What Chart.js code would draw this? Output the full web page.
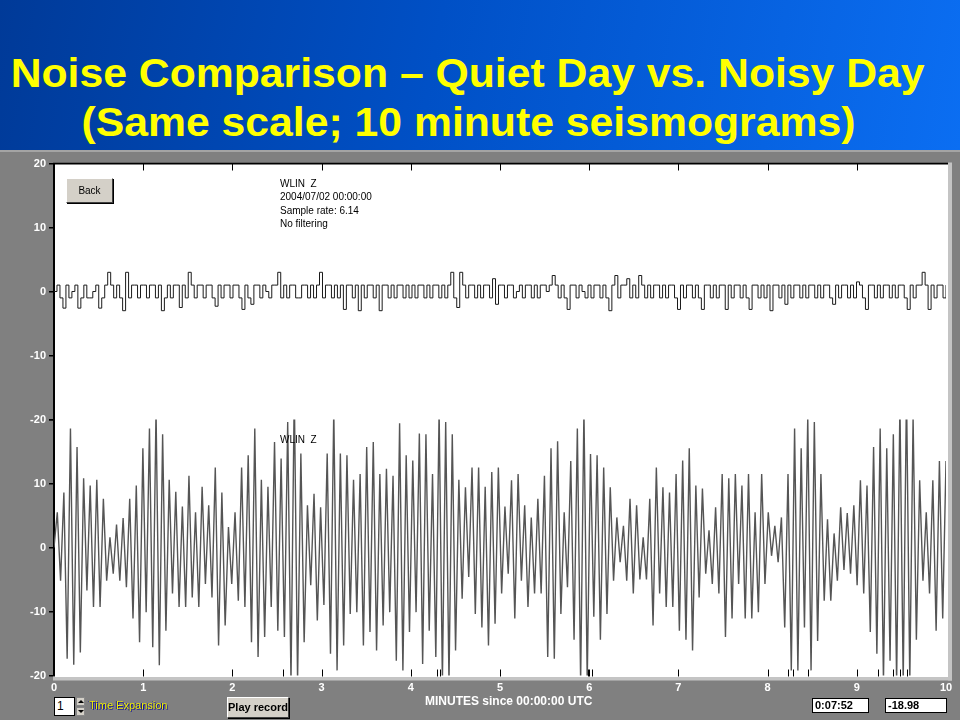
<!DOCTYPE html>
<html><head><meta charset="utf-8">
<script src="https://cdn.jsdelivr.net/npm/chart.js@4.4.1/dist/chart.umd.min.js"></script>
<style>
html,body{margin:0;padding:0;width:960px;height:720px;overflow:hidden;background:#808080;font-family:"Liberation Sans",Arial,sans-serif;}
#header{position:absolute;left:0;top:0;width:960px;height:150px;background:linear-gradient(100deg,#003a98 0%,#0050c6 45%,#0b6ef2 100%);}
#panel{position:absolute;left:0;top:150px;width:960px;height:570px;background:#808080;border-top:2px solid #a4a4a4;box-sizing:border-box;}
.title{position:absolute;left:-12px;width:960px;text-align:center;color:#ffff00;font-weight:bold;font-size:41px;line-height:41px;white-space:nowrap;}
.title span{display:inline-block;transform-origin:center center;}
#wrap{position:absolute;left:0;top:150px;width:960px;height:570px;}
.txt{position:absolute;font-size:10px;color:#000;white-space:pre;line-height:13.3px;}
.btn{position:absolute;background:#d4d0c8;border-top:1px solid #fff;border-left:1px solid #fff;border-right:1px solid #404040;border-bottom:1px solid #404040;box-shadow:1px 1px 0 #000;box-sizing:border-box;text-align:center;color:#000;}
.box{position:absolute;background:#fff;border:1px solid #000;box-sizing:border-box;font-weight:bold;font-size:11px;line-height:13px;padding-left:2px;color:#000;}
</style></head>
<body>
<div id="header"></div>
<div class="title" style="top:53px;"><span id="t1">Noise Comparison – Quiet Day vs. Noisy Day</span></div>
<div class="title" style="top:102px;"><span id="t2">(Same scale; 10 minute seismograms)</span></div>
<div id="panel"></div>
<div id="wrap"><canvas id="c" width="960" height="570"></canvas></div>

<div class="btn" style="left:66px;top:178px;width:47px;height:25px;font-size:10px;line-height:23px;">Back</div>
<div class="txt" style="left:280px;top:177px;">WLIN  Z
2004/07/02 00:00:00
Sample rate: 6.14
No filtering</div>
<div class="txt" style="left:280px;top:433px;">WLIN  Z</div>

<div class="box" style="left:54px;top:697px;width:21px;height:19px;font-weight:normal;font-size:12px;line-height:17px;">1</div>
<div style="position:absolute;left:76px;top:697px;width:9px;height:9px;background:#d4d0c8;border:1px solid #888;box-sizing:border-box;"><div style="position:absolute;left:1px;top:2px;width:0;height:0;border-left:3px solid transparent;border-right:3px solid transparent;border-bottom:3px solid #000;"></div></div>
<div style="position:absolute;left:76px;top:707px;width:9px;height:9px;background:#d4d0c8;border:1px solid #888;box-sizing:border-box;"><div style="position:absolute;left:1px;top:2px;width:0;height:0;border-left:3px solid transparent;border-right:3px solid transparent;border-top:3px solid #000;"></div></div>
<div style="position:absolute;left:89px;top:698px;font-size:11px;line-height:14px;color:#f2f200;text-shadow:1px 1px 0 #1c1c90,-1px 0 0 #1c1c90;white-space:nowrap;">Time Expansion</div>
<div class="btn" style="left:227px;top:697px;width:62px;height:21px;font-size:11px;line-height:19px;font-weight:bold;">Play record</div>
<div style="position:absolute;left:425px;top:694px;font-family:'Liberation Sans Narrow','Liberation Sans',sans-serif;font-weight:bold;font-size:12px;line-height:14px;color:#fff;white-space:nowrap;">MINUTES since 00:00:00 UTC</div>
<div class="box" style="left:812px;top:698px;width:57px;height:15px;">0:07:52</div>
<div class="box" style="left:885px;top:698px;width:62px;height:15px;">-18.98</div>

<script>
// ---- data ----
const minuteTicks = [0,1,2,3,4,5,6,7,8,9,10];
const axisTicks = [-20,-10,0,10,20];
// event marks along the bottom edge (minutes)
const eventMarks = [2.57,4.29,4.33,5.99,6.03,8.23,8.28,8.45,9.24,9.41,9.48,9.56];
// quiet day (top trace), 300 stepped samples over 10 minutes
const quietDay = [
 0,1,-1,-2.6,1,-1,0,1,-2.6,-1,1,-1,-1,0,1,-2.6,-1,1,3,1,-1,1,-1,-3,3,-1,1,1,-1,1,
 1,-1,1,1,-1,1,-3,-1,1,-1,1,1,-2.5,1,-1,3,1,-1,1,1,-1,1,1,-1,-2.3,1,-1,1,1,-1,
 1,1,-1,-2.8,1,-1,-2,1,1,-1,1,0,-1,1,1,3,-1,1,-1,1,1,-1,-1,1,1,-1,1,-1,1,3,
 -1,1,1,-1,1,-1,1,-2.8,1,1,-1,1,-3,1,-1,1,1,-1,1,-3,1,1,-1,1,-1,1,1,-1,1,-1,
 1,-1,1,1,-1,1,-1,1,1,-1,1,-1,1,3,-1,-2.5,3,1,-1,1,1,-1,1,-1,1,1,-1,2,-2,1,
 1,-1,1,1,-1,0,1,-1,1,1,-1,1,-1,1,1,0,1,2.5,1,-1,1,-1,-2.8,1,1,-1,1,0,-1,1,
 -1,1,1,-1,1,-1,-3,1,2.5,-1,1,1,2,-1,1,-1,2.5,1,-1,1,-1,1,1,-1,1,-1,1,1,-1,-2.8,
 1,-1,1,1,-1,1,-1,-2.8,1,1,-1,1,-1,1,1,-2.8,1,-1,1,1,-1,1,-1,-2.8,1,1,-1,1,-1,1,
 -3,1,1,-1,1,-2,1,-1,1,1,-1,1,-1,1,1,-1,1,-1,1,1,-1,-2,1,-1,1,1,-1,1,-1,1.5,
 1,-1,-2.8,1,1,-1,1,-1,1,1,-1,1,-1,1,1,-1,-2.8,1,-1,1,1,3,1,-2.8,1,-1,1,1,-1,1
];
// noisy day (bottom trace): successive peaks and troughs over 10 minutes
const noisyDay = [
 0,
 5.5,-5.2, 8.6,-17.4, 18.6,-18.3, 15.7,-16.4, 10.8,-6.7, 9.7,-9.3, 10.6,-9.3, 7.6,-5.2,
 1.6,-4.1, 3.6,-5.2, 4.6,-6.2, 7.6,-11.1, 9.7,-14.8, 15.5,-10.1, 18.6,-15.6, 21.5,-18.4,
 17.7,-13, 10.6,-7.2, 8.7,-9.3, 6.4,-9.3, 11.2,-7.8, 5.5,-9.3, 9.5,-5.7, 6.6,-7.8,
 12.5,-15.3, 8.6,-12.2, 3.2,-5.7, 5.5,-8.3, 12.5,-9.3, 14.4,-14.8, 18.6,-17.1, 10.6,-14,
 9.5,-9.3, 16.5,-13, 13.9,-14, 19.6,-21, 24.5,-21, 14.7,-14.8, 6.6,-5.9, 8.4,-11.4,
 6.3,-9, 14.7,-16.6, 21.5,-19.2, 14.7,-15.3, 14.4,-10.4, 10.6,-10.1,
 11.5,-15.3, 15.7,-13.2, 16.5,-16.1, 11.5,-12.2, 12.3,-10.1, 11.2,-17.7, 19.4,-19.2,
 14.4,-13.2, 13.6,-10.1, 17.8,-18.2, 17.7,-13, 11.5,-17.1, 21.5,-21, 19.6,-21, 17.7,-16.1,
 10.6,-8, 9.4,-4.6, 12.5,-10.4, 12.5,-12.5, 9.5,-15.3, 11.8,-11.9, 12.5,-7.2, 6.4,-4.1,
 10.5,-11.1, 11.5,-5.2, 6.6,-9.3, 4.7,-7.2, 7.6,-7.2, 11.2,-17.1, 15.5,-17.4, 16.6,-10.4,
 5.5,-6.2, 13.5,-14.4, 18.6,-21, 21.5,-21, 14.6,-10.8, 14.4,-14.4, 12.5,-10.4, 9.4,-5.2,
 4.7,-2.3, 3.4,-5.2, 7.6,-7.2, 6.6,-5,
 1.6,-5, 7.6,-12.2, 12.5,-7.2, 9.4,-9.3, 8.6,-9.3, 11.5,-13, 13.6,-14.4, 15.5,-16.1,
 9.7,-7.8, 9.2,-4.1, 2.7,-5.7, 6.3,-7.2, 11.5,-14, 10.8,-11.1, 11.5,-5.7, 9.7,-11.1,
 11.5,-11.1, 5.5,-10.1, 11.5,-5.7, 5.5,-1.3, 3.4,-2.3, 4.7,-12.5, 11.5,-19.2, 18.6,-19.2,
 15.5,-12.5, 20.4,-19.2, 19.6,-14.6, 11.5,-8.3, 4.4,-8.3, 2.2,-5.2, 6.3,-3.5, 5.4,-4.1,
 6.6,-5.9, 10.5,-7.2, 9.7,-13.2, 15.7,-16.6, 18.6,-21, 15.5,-17.7, 17.7,-21, 22.5,-21,
 24.5,-21, 20.4,-14.4, 10.5,-5.2, 5.5,-7.2, 10.5,-13, 13.5,-11.1, 13.5
];

// ---- title fitting ----
function fit(id, w){const e=document.getElementById(id);const r=e.getBoundingClientRect().width;e.style.transform='scaleX('+(w/r)+')';}
fit('t1',914); fit('t2',774);

const toXY = arr => arr.map((v,i)=>({x: i*10/(arr.length-1), y: v}));

const framePlugin = {
  id:'frame',
  beforeDraw(chart){
    const ctx=chart.ctx, a=chart.chartArea;
    ctx.save();
    ctx.fillStyle='#ffffff';
    ctx.fillRect(a.left-1, a.top-1, a.right-a.left+3, a.bottom-a.top+2.5);
    ctx.restore();
  },
  afterDraw(chart){
    const ctx=chart.ctx, a=chart.chartArea, xs=chart.scales.x;
    ctx.save();
    ctx.fillStyle='#000';
    ctx.fillRect(a.left-1, a.top-1, a.right-a.left+3, 2);
    ctx.fillStyle='#c4c4c4';
    ctx.fillRect(a.left-1, a.bottom+1.5, a.right-a.left+7, 3.5);
    ctx.fillRect(a.right+2, a.top-1, 4, a.bottom-a.top+6);
    ctx.strokeStyle='#000'; ctx.lineWidth=1;
    for(const m of minuteTicks){
      if(m===0||m===10) continue;
      const x=Math.round(xs.getPixelForValue(m))+0.5;
      ctx.beginPath(); ctx.moveTo(x,a.top); ctx.lineTo(x,a.top+7); ctx.stroke();
      ctx.beginPath(); ctx.moveTo(x,a.bottom+1); ctx.lineTo(x,a.bottom-6); ctx.stroke();
    }
    for(const m of eventMarks){
      const x=Math.round(xs.getPixelForValue(m))+0.5;
      ctx.beginPath(); ctx.moveTo(x,a.bottom+1); ctx.lineTo(x,a.bottom-6); ctx.stroke();
    }
    ctx.restore();
  }
};

const tickFont = {family:"'Liberation Sans Narrow','Liberation Sans',sans-serif", size:11, weight:'bold'};
const yCommon = (cb)=>({
  type:'linear', position:'left', stack:'seis', stackWeight:1, min:-20, max:20,
  afterFit(s){ s.width = 54; },
  afterBuildTicks(s){ s.ticks = axisTicks.map(v=>({value:v})); },
  ticks:{color:'#ffffff', font:tickFont, padding:3, callback:cb},
  grid:{display:true, drawOnChartArea:false, drawTicks:true, tickLength:5, color:'#000', lineWidth:1.5},
  border:{display:true, color:'#000', width:2}
});

new Chart(document.getElementById('c'), {
  type:'line',
  data:{datasets:[
    {label:'WLIN Z 2004/07/02', data:toXY(quietDay), yAxisID:'yTop', xAxisID:'x', stepped:true,
     borderColor:'#1a1a1a', borderWidth:1, pointRadius:0, fill:false},
    {label:'WLIN Z noisy', data:toXY(noisyDay), yAxisID:'yBot', xAxisID:'x', tension:0,
     borderColor:'#555555', borderWidth:1.4, pointRadius:0, fill:false}
  ]},
  options:{
    responsive:false, animation:false, parsing:false,
    layout:{padding:{left:0, right:14, top:13.5, bottom:20.5}},
    plugins:{legend:{display:false}, tooltip:{enabled:false}},
    scales:{
      x:{type:'linear', min:0, max:10,
         afterFit(s){ s.height = 24; },
         afterBuildTicks(s){ s.ticks = minuteTicks.map(v=>({value:v})); },
         ticks:{color:'#ffffff', font:tickFont, padding:6, maxRotation:0},
         grid:{display:false, drawTicks:false, tickLength:0}, border:{display:false}},
      yBot: yCommon(v => v===20 ? '-20' : String(v)),
      yTop: yCommon(v => v===-20 ? '' : String(v))
    }
  },
  plugins:[framePlugin]
});
</script>
</body></html>
